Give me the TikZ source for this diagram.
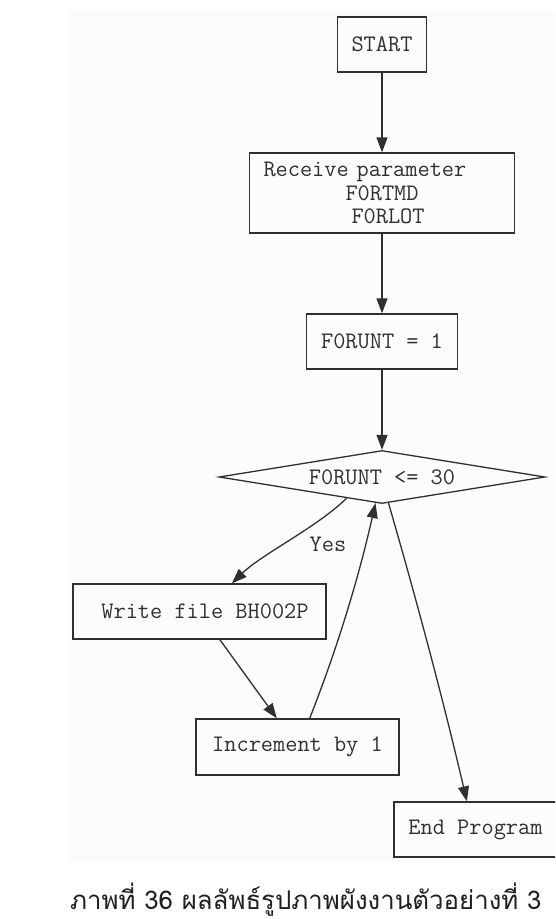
\documentclass[tikz,border=0pt]{standalone}
\usepackage{fontspec}
\newfontfamily\thaifont[Script=Thai]{Loma}
\usetikzlibrary{shapes.geometric,arrows.meta}
\definecolor{ink}{HTML}{303030}
\definecolor{bgpanel}{HTML}{FBFCFB}
\begin{document}
\begin{tikzpicture}[x=1pt,y=-1pt,
  box/.style={draw=ink, line width=1.3pt, inner sep=0pt, text=ink,
    font=\ttfamily\fontsize{23.66}{23.5}\selectfont},
  lbl/.style={inner sep=0pt, text=ink, font=\ttfamily\fontsize{23.66}{23.5}\selectfont},
  flow/.style={draw=ink, line width=1.3pt, -{Triangle[length=15pt,width=11pt]}}]
\useasboundingbox (0,0) rectangle (555,919);
\clip (0,0) rectangle (555,919);
\fill[bgpanel] (68,10) rectangle (560,862);

\node[box, minimum width=89pt, minimum height=55pt] (start) at (382,44.5) {START};
\node[box, minimum width=265pt, minimum height=80pt, text width=237pt,
      align=left] (recv) at (382,193)
  {Receive parameter\\\hspace*{82pt}F0RTMD\\\hspace*{88pt}F0RLOT};
\node[box, minimum width=151pt, minimum height=55pt] (init) at (382,341.5) {F0RUNT = 1};
\node[box, diamond, aspect=6.15, minimum width=326pt, minimum height=53pt] (cond) at (382,477) {F0RUNT <= 30};
\node[box, minimum width=253pt, minimum height=55pt] (write) at (199.5,611.5) {\hspace*{11pt}Write file BH002P};
\node[box, minimum width=203pt, minimum height=56pt] (inc) at (297.5,747) {Increment by 1};
\node[box, minimum width=163pt, minimum height=55pt] (end) at (475.5,829.5) {End Program};
\node[lbl] (yes) at (328,544) {Yes};

\draw[flow] (start) -- (recv);
\draw[flow] (recv) -- (init);
\draw[flow] (init) -- (cond);
\draw[flow] (cond.211) .. controls +(-31,30) and +(31,-30) .. (write.41.6);
\draw[flow] (write) -- (inc);
\draw[flow] (inc.67.7) .. controls +(27.9,-70.6) and +(-16.7,74) .. (cond.256.6);
\draw[flow] (cond.284.5) .. controls +(28.7,99.2) and +(-23.5,-100.6) .. (end.107.2);

\node[anchor=base west, inner sep=0pt, text=black!88,
      font=\thaifont\fontsize{25.8}{30}\selectfont] (cap) at (70,909)
  {ภาพที่ 36 ผลลัพธ์รูปภาพผังงานตัวอย่างที่ 3};
\end{tikzpicture}
\end{document}
